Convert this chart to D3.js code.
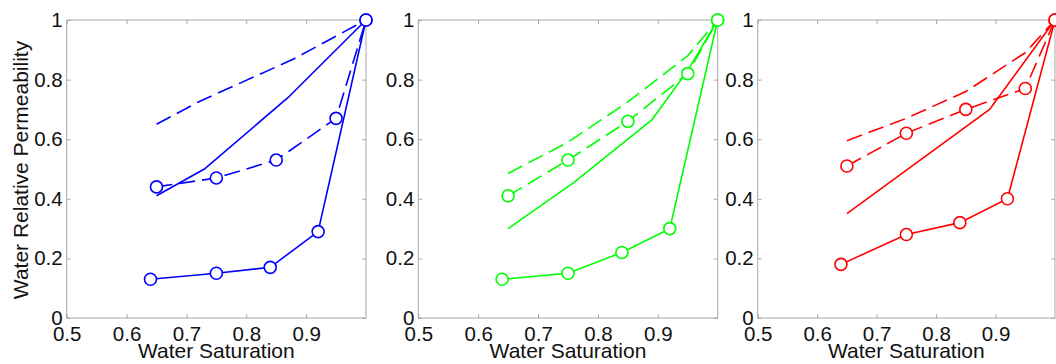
<!DOCTYPE html>
<html>
<head>
<meta charset="utf-8">
<script src="https://cdn.jsdelivr.net/npm/d3@7"></script>
<style>
  html, body { margin: 0; padding: 0; background: #fff; }
  svg { display: block; font-family: "Liberation Sans", Arial, sans-serif; }
</style>
</head>
<body>
<svg id="chart" width="1056" height="364"></svg>
<script>
// ------------------------------------------------------------
//  Data
// ------------------------------------------------------------
const ticksX = [0.5, 0.6, 0.7, 0.8, 0.9];
const ticksY = [0, 0.2, 0.4, 0.6, 0.8, 1];

// x positions of the circle-marked series (shared by all panels)
const satSolidO = [0.64, 0.75, 0.84, 0.92, 1.0];
const satDashO = [0.65, 0.75, 0.85, 0.95, 1.0];

// blue panel
const blueSolidO = [0.13, 0.15, 0.17, 0.29, 1.0];
const blueDashO = [0.44, 0.47, 0.53, 0.67, 1.0];
const blueSolidX = [0.65, 0.73, 0.87, 1.0];
const blueSolidY = [0.41, 0.50, 0.74, 1.0];
const blueDashX = [0.65, 0.72, 0.88, 1.0];
const blueDashY = [0.65, 0.725, 0.87, 1.0];

// green panel
const greenSolidO = [0.13, 0.15, 0.22, 0.30, 1.0];
const greenDashO = [0.41, 0.53, 0.66, 0.82, 1.0];
const greenSolidX = [0.65, 0.76, 0.89, 0.95, 1.0];
const greenSolidY = [0.30, 0.455, 0.665, 0.83, 1.0];
const greenDashX = [0.65, 0.75, 0.85, 0.95, 1.0];
const greenDashY = [0.485, 0.59, 0.725, 0.88, 1.0];

// red panel
const redSolidO = [0.18, 0.28, 0.32, 0.40, 1.0];
const redDashO = [0.51, 0.62, 0.70, 0.77, 1.0];
const redSolidX = [0.65, 0.89, 1.0];
const redSolidY = [0.35, 0.70, 1.0];
const redDashX = [0.65, 0.75, 0.85, 0.95, 1.0];
const redDashY = [0.595, 0.67, 0.76, 0.89, 1.0];

const xLabel = 'Water Saturation';
const yLabel = 'Water Relative Permeability';

const zip = (xs, ys) => xs.map((x, i) => [x, ys[i]]);

const panels = [
  { color: '#0000ff', left: 66.7, right: 366,
    solidO: zip(satSolidO, blueSolidO), dashO: zip(satDashO, blueDashO),
    solid: zip(blueSolidX, blueSolidY), dash: zip(blueDashX, blueDashY) },
  { color: '#00ff00', left: 418.3, right: 717.7,
    solidO: zip(satSolidO, greenSolidO), dashO: zip(satDashO, greenDashO),
    solid: zip(greenSolidX, greenSolidY), dash: zip(greenDashX, greenDashY) },
  { color: '#ff0000', left: 757.7, right: 1055,
    solidO: zip(satSolidO, redSolidO), dashO: zip(satDashO, redDashO),
    solid: zip(redSolidX, redSolidY), dash: zip(redDashX, redDashY) },
];

// ------------------------------------------------------------
//  Drawing
// ------------------------------------------------------------
const svg = d3.select('#chart');
const plotTop = 20, plotBottom = 318;
const frameColor = '#a8a8a8';
const tickFont = 20.5;
const labelFont = 21;

panels.forEach((p, i) => {
  const x = d3.scaleLinear().domain([0.5, 1]).range([p.left, p.right]);
  const y = d3.scaleLinear().domain([0, 1]).range([plotBottom, plotTop]);
  const g = svg.append('g');

  // frame
  g.append('rect')
    .attr('x', p.left).attr('y', plotTop)
    .attr('width', p.right - p.left).attr('height', plotBottom - plotTop)
    .attr('fill', 'none').attr('stroke', frameColor).attr('stroke-width', 1);

  // axes with inward ticks (matlab box style)
  const styleAxis = (sel, labels) => {
    sel.select('.domain').remove();
    sel.selectAll('.tick line').attr('stroke', frameColor);
    sel.selectAll('.tick text')
      .attr('fill', '#111')
      .style('font-size', tickFont + 'px')
      .style('font-family', '"Liberation Sans", Arial, sans-serif');
    if (!labels) sel.selectAll('.tick text').remove();
  };

  g.append('g').attr('transform', `translate(0,${plotBottom})`)
    .call(d3.axisBottom(x).tickValues(ticksX).tickSize(-4).tickPadding(8).tickFormat(d3.format('')))
    .call(s => styleAxis(s, true));
  g.append('g').attr('transform', `translate(0,${plotTop})`)
    .call(d3.axisTop(x).tickValues(ticksX).tickSize(-4))
    .call(s => styleAxis(s, false));
  g.append('g').attr('transform', `translate(${p.left},0)`)
    .call(d3.axisLeft(y).tickValues(ticksY).tickSize(-4).tickPadding(4).tickFormat(d3.format('')))
    .call(s => styleAxis(s, true));
  g.append('g').attr('transform', `translate(${p.right},0)`)
    .call(d3.axisRight(y).tickValues(ticksY).tickSize(-4))
    .call(s => styleAxis(s, false));

  const line = d3.line().x(d => x(d[0])).y(d => y(d[1]));

  const series = [
    { data: p.dash, dashed: true },
    { data: p.solid, dashed: false },
    { data: p.dashO, dashed: true },
    { data: p.solidO, dashed: false },
  ];
  series.forEach(s => {
    g.append('path')
      .datum(s.data)
      .attr('fill', 'none')
      .attr('stroke', p.color)
      .attr('stroke-width', 1.6)
      .attr('stroke-dasharray', s.dashed ? '16,7' : null)
      .attr('d', line);
  });

  [p.dashO, p.solidO].forEach(pts => {
    g.selectAll(null)
      .data(pts)
      .join('circle')
      .attr('cx', d => x(d[0]))
      .attr('cy', d => y(d[1]))
      .attr('r', 6)
      .attr('fill', '#fff')
      .attr('stroke', p.color)
      .attr('stroke-width', 1.6);
  });

  // x label
  g.append('text')
    .attr('x', (p.left + p.right) / 2)
    .attr('y', 358)
    .attr('text-anchor', 'middle')
    .attr('fill', '#111')
    .style('font-size', labelFont + 'px')
    .text(xLabel);

  if (i === 0) {
    g.append('text')
      .attr('transform', `translate(28,${(plotTop + plotBottom) / 2 + 1}) rotate(-90)`)
      .attr('text-anchor', 'middle')
      .attr('fill', '#111')
      .style('font-size', labelFont + 'px')
      .text(yLabel);
  }
});
</script>
</body>
</html>
